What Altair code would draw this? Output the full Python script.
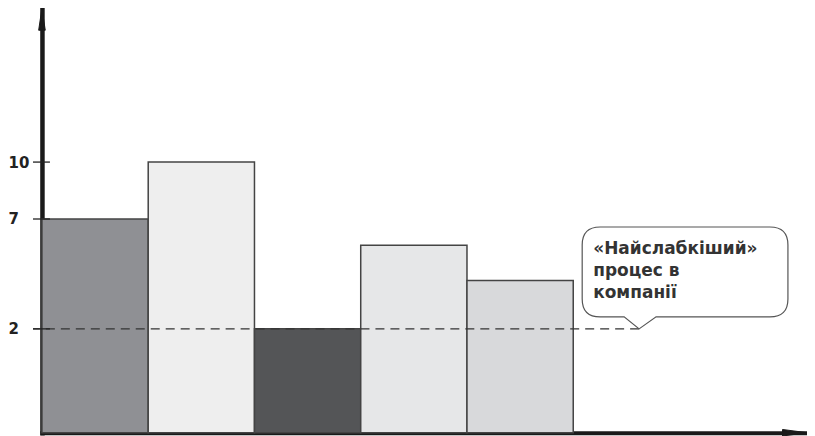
import altair as alt
import pandas as pd

# ---- data ----
BAR_VALUES = [7, 10, 2, 5.8, 4.2]
BAR_FILLS = ["#8f9094", "#eeeeee", "#545557", "#e6e7e8", "#d8d9db"]
TICK_VALUES = [2, 7, 10]
WEAKEST_LEVEL = 2
CALLOUT_LINES = ["«Найслабкіший»", "процес в", "компанії"]
CALLOUT_X = 5.62  # where the dashed line ends / callout tail points

# ---- layout ----
W, H = 766, 425
X_MAX = 7.2

bars = pd.DataFrame({
    "start": list(range(len(BAR_VALUES))),
    "end": [i + 1 for i in range(len(BAR_VALUES))],
    "value": BAR_VALUES,
    "fill": BAR_FILLS,
})
ticks = pd.DataFrame({"v": TICK_VALUES})
level = pd.DataFrame({"y": [WEAKEST_LEVEL]})

xs = alt.Scale(domain=[0, X_MAX], nice=False, zero=False)
# schematic (non-linear) value axis, as in the original drawing
ys = alt.Scale(domain=[0, 2, 7, 10, 18], range=[H, 321, 211, 154, 0], nice=False, zero=False)

AX = "#1a1a1a"

bar_layer = alt.Chart(bars).mark_rect(stroke="#444444", strokeWidth=1.5).encode(
    x=alt.X("start:Q", scale=xs, axis=alt.Axis(title=None, labels=False, ticks=False, grid=False,
                                                domainColor=AX, domainWidth=4, domainCap="square")),
    x2="end:Q",
    y=alt.Y("value:Q", scale=ys, axis=alt.Axis(title=None, values=TICK_VALUES, ticks=False, grid=False,
                                                domainColor=AX, domainWidth=4.5, domainCap="square",
                                                labelFont="DejaVu Sans", labelFontWeight="bold",
                                                labelFontSize=15, labelColor="#222222",
                                                labelAlign="left", labelPadding=34, labelOverlap=False)),
    y2=alt.datum(0),
    color=alt.Color("fill:N", scale=None),
)

dash_layer = alt.Chart(level).mark_rule(stroke="#333333", strokeWidth=1.2, strokeDash=[9, 6]).encode(
    x=alt.datum(CALLOUT_X, scale=xs),
    x2=alt.value(-9),
    y=alt.Y("y:Q", scale=ys),
)

tick_layer = alt.Chart(ticks).mark_rule(stroke="#222222", strokeWidth=1.3).encode(
    x=alt.value(-9),
    x2=alt.value(8),
    y=alt.Y("v:Q", scale=ys),
)

BUBBLE_PATH = (
    "M0,0 L-15,-12 L-39,-12 Q-57,-12 -57,-30 L-57,-84 Q-57,-102 -39,-102 "
    "L131,-102 Q149,-102 149,-84 L149,-30 Q149,-12 131,-12 L17,-12 Z"
)

bubble_layer = alt.Chart(level).mark_point(
    shape=BUBBLE_PATH, size=4, filled=True, fill="white", fillOpacity=1,
    stroke="#555555", strokeWidth=1.2, strokeOpacity=1, opacity=1,
).encode(
    x=alt.datum(CALLOUT_X, scale=xs),
    y=alt.Y("y:Q", scale=ys),
)

text_layer = alt.Chart(level).mark_text(
    text=CALLOUT_LINES, align="left", baseline="middle", font="DejaVu Sans", fontWeight="bold",
    fontSize=17, lineHeight=22, color="#333333", dx=-46, dy=-80,
).encode(
    x=alt.datum(CALLOUT_X, scale=xs),
    y=alt.Y("y:Q", scale=ys),
)

y_arrow = alt.Chart(level).mark_point(
    shape="M0,-1 L0.3,1 L-0.3,1 Z", size=484, filled=True, fill=AX, stroke=AX,
    strokeWidth=1, opacity=1, yOffset=11,
).encode(
    x=alt.datum(0, scale=xs),
    y=alt.datum(18, scale=ys),
)

x_arrow = alt.Chart(level).mark_point(
    shape="M1,0 L-1,-0.26 L-1,0.26 Z", size=625, filled=True, fill=AX, stroke=AX,
    strokeWidth=1, opacity=1, xOffset=-12,
).encode(
    x=alt.datum(X_MAX, scale=xs),
    y=alt.datum(0, scale=ys),
)

chart = alt.layer(
    bar_layer, dash_layer, tick_layer, bubble_layer, text_layer, y_arrow, x_arrow
).properties(
    width=W, height=H,
    autosize=alt.AutoSizeParams(type="none"),
    padding={"left": 34, "top": 0, "right": 0, "bottom": 3},
    background="white",
).configure_view(stroke=None)

chart.save("out.html", embed_options={"renderer": "svg", "actions": False})
